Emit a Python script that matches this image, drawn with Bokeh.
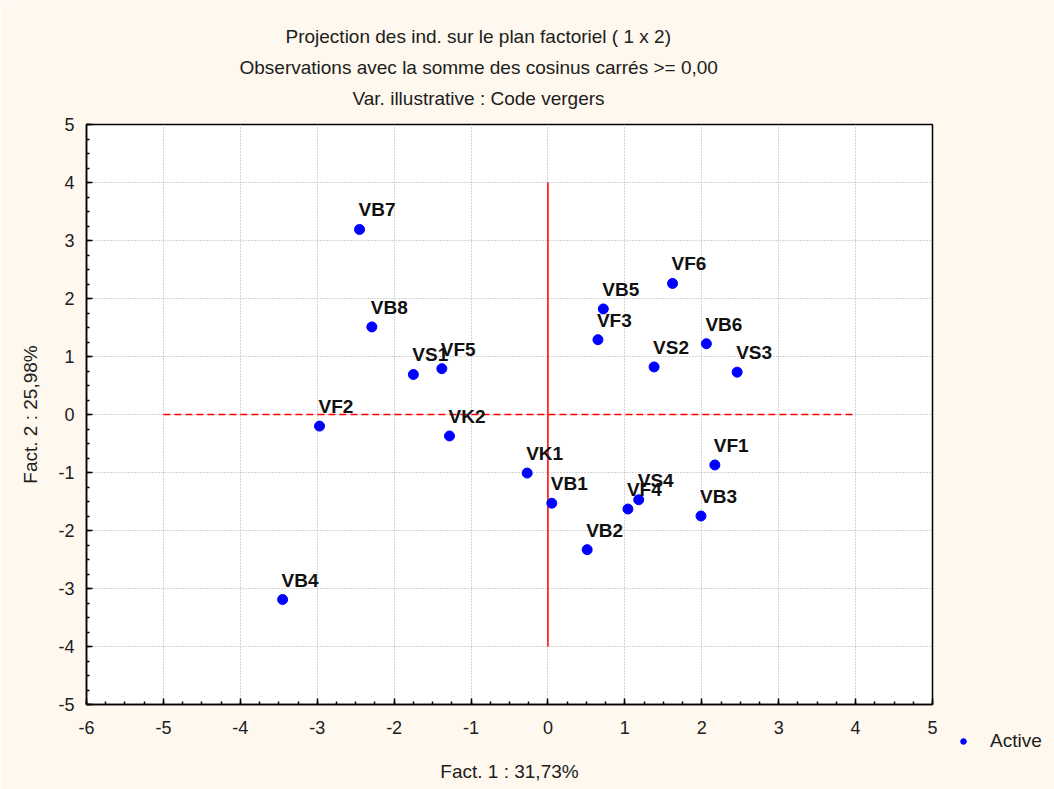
from bokeh.plotting import figure
from bokeh.models import ColumnDataSource, LabelSet, Legend, LegendItem, FixedTicker, Range1d, Title
from bokeh.core.properties import value
from bokeh.embed import file_html
from bokeh.resources import INLINE

# ---- data ----
names = ["VB7", "VB8", "VS1", "VF5", "VF2", "VK2", "VB4", "VK1", "VB1", "VB2",
         "VF4", "VS4", "VB3", "VF1", "VF6", "VB5", "VF3", "VS2", "VB6", "VS3"]
fact1 = [-2.45, -2.29, -1.75, -1.38, -2.97, -1.28, -3.45, -0.27, 0.05, 0.51,
         1.04, 1.18, 1.99, 2.17, 1.62, 0.72, 0.65, 1.38, 2.06, 2.46]
fact2 = [3.19, 1.51, 0.69, 0.79, -0.20, -0.37, -3.19, -1.01, -1.53, -2.33,
         -1.63, -1.47, -1.75, -0.87, 2.26, 1.82, 1.29, 0.82, 1.22, 0.73]
x_ticks = [-6, -5, -4, -3, -2, -1, 0, 1, 2, 3, 4, 5]
y_ticks = [-5, -4, -3, -2, -1, 0, 1, 2, 3, 4, 5]
vline_x = [0, 0]
vline_y = [-4, 4]
hline_x = [-5, 4]
hline_y = [0, 0]
title_lines = ["Projection des ind. sur le plan factoriel (  1 x   2)",
               "Observations avec la somme des cosinus carrés >=  0,00",
               "Var. illustrative :  Code vergers"]
x_label = "Fact. 1 : 31,73%"
y_label = "Fact. 2 : 25,98%"
legend_label = "Active"

FONT = "Liberation Sans"
TXT = "#202020"

p = figure(frame_width=846, frame_height=580,
           min_border_left=86, min_border_right=40, min_border_top=124, min_border_bottom=85,
           x_range=Range1d(-6, 5), y_range=Range1d(-5, 5),
           output_backend="svg", toolbar_location=None)
p.border_fill_color = "#FEF8EE"
p.background_fill_color = "white"
p.outline_line_color = "black"
p.outline_line_width = 1.5

for ax, ticks in ((p.xaxis[0], x_ticks), (p.yaxis[0], y_ticks)):
    ax.ticker = FixedTicker(ticks=ticks, minor_ticks=[t / 4 for t in range(ticks[0] * 4, ticks[-1] * 4 + 1)])
    ax.major_label_overrides = {t: str(t) for t in ticks}
    ax.major_tick_in = 6
    ax.major_tick_out = 0
    ax.minor_tick_in = 3
    ax.minor_tick_out = 0
    ax.axis_line_color = "black"
    ax.axis_line_width = 1.5
    ax.major_tick_line_color = "black"
    ax.major_tick_line_width = 1.5
    ax.minor_tick_line_color = "black"
    ax.minor_tick_line_width = 1.5
    ax.major_label_text_font = FONT
    ax.major_label_text_font_size = "18px"
    ax.major_label_text_color = TXT
    ax.axis_label_text_font = FONT
    ax.axis_label_text_font_size = "19px"
    ax.axis_label_text_font_style = "normal"
    ax.axis_label_text_color = TXT

p.xaxis.axis_label = x_label
p.yaxis.axis_label = y_label
p.xaxis.major_label_standoff = 16
p.yaxis.major_label_standoff = 12
p.xaxis.axis_label_standoff = 24
p.yaxis.axis_label_standoff = 14

for g in (p.xgrid[0], p.ygrid[0]):
    g.grid_line_color = "#a8a8a8"
    g.grid_line_dash = "1 2"
    g.grid_line_width = 1
p.xgrid.ticker = FixedTicker(ticks=x_ticks[1:-1])
p.ygrid.ticker = FixedTicker(ticks=y_ticks[1:-1])

p.line(vline_x, vline_y, line_color="red", line_width=1.5)
p.line(hline_x, hline_y, line_color="red", line_width=1.5, line_dash="7 4")

src = ColumnDataSource(dict(x=fact1, y=fact2, name=names))
pts = p.scatter("x", "y", source=src, size=10, fill_color="blue", line_color="blue")

labels = LabelSet(x="x", y="y", text="name", source=src, x_offset=-1, y_offset=13,
                  text_font=value(FONT), text_font_size=value("19px"), text_font_style="bold",
                  text_color="#111111", text_baseline="alphabetic")
p.add_layout(labels)

# titles: added innermost first
title_offsets = [266, 153, 199]
title_standoffs = [31, -15, 31]
for txt, off, so in zip(reversed(title_lines), title_offsets, title_standoffs):
    p.add_layout(Title(text=txt, align="left", offset=off, standoff=so,
                       text_font=FONT, text_font_size="19px", text_font_style="normal",
                       text_color=TXT), "above")

legend = Legend(items=[LegendItem(label=legend_label, renderers=[pts])],
                location=(24, -48), padding=0, margin=0, border_line_color=None,
                background_fill_alpha=0, glyph_width=14, label_standoff=20,
                label_text_font=FONT, label_text_font_size="19px", label_text_color=TXT)
p.add_layout(legend, "right")

open("out.html", "w").write(file_html(p, INLINE))
